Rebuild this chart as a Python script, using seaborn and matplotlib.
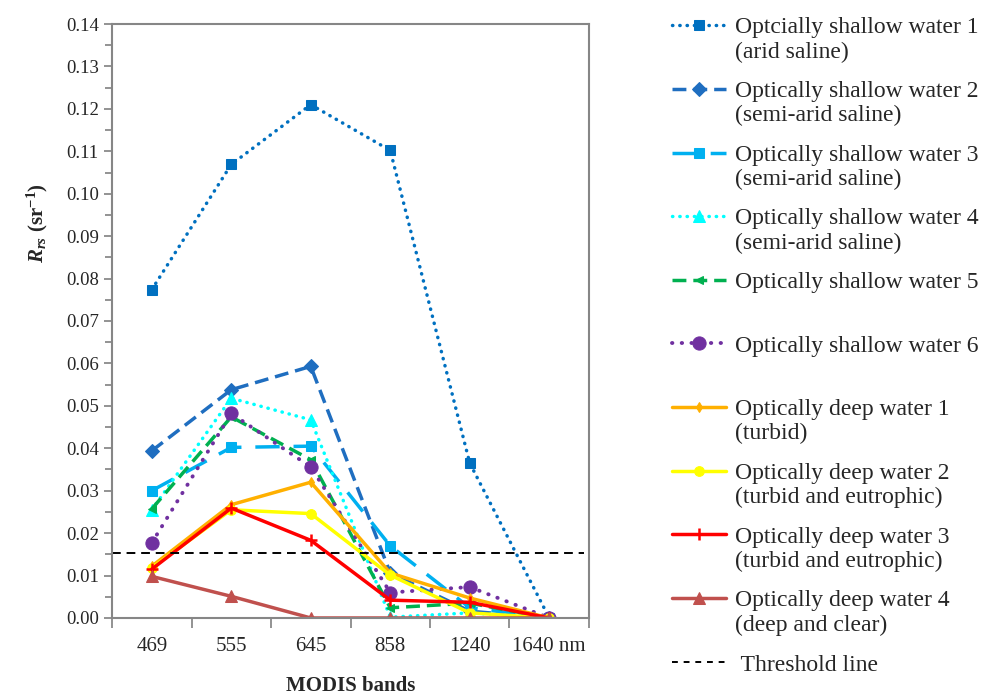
# -*- coding: utf-8 -*-
"""
Rrs spectra of optically shallow / deep waters over the MODIS bands.
"""

import numpy as np
import pandas as pd
import matplotlib
matplotlib.use("Agg")
import matplotlib.pyplot as plt
import seaborn as sns
from matplotlib.legend_handler import HandlerLine2D
from matplotlib.lines import Line2D

# Data
bands = ["469", "555", "645", "858", "1240", "1640 nm"]

shallow_1 = [0.0774, 0.1069, 0.1210, 0.1102, 0.0365, 0.0]
shallow_2 = [0.0394, 0.0538, 0.0593, 0.0106, 0.0016, 0.0]
shallow_3 = [0.0300, 0.0402, 0.0405, 0.0170, 0.0024, 0.0]
shallow_4 = [0.0255, 0.0518, 0.0467, 0.0002, 0.0012, 0.0]
shallow_5 = [0.0257, 0.0474, 0.0373, 0.0024, 0.0035, 0.0]
shallow_6 = [0.0177, 0.0482, 0.0356, 0.0060, 0.0073, 0.0]
deep_1 = [0.0122, 0.0267, 0.0320, 0.0106, 0.0047, 0.0]
deep_2 = [0.0118, 0.0255, 0.0246, 0.0101, 0.0012, 0.0]
deep_3 = [0.0115, 0.0259, 0.0183, 0.0042, 0.0037, 0.0]
deep_4 = [0.0098, 0.0051, 0.0, 0.0, 0.0, 0.0]

threshold = 0.0152

labels = [
    "Optcially shallow water 1\n(arid saline)",
    "Optically shallow water 2\n(semi-arid saline)",
    "Optically shallow water 3\n(semi-arid saline)",
    "Optically shallow water 4\n(semi-arid saline)",
    "Optically shallow water 5\n ",
    "Optically shallow water 6\n ",
    "Optically deep water 1\n(turbid)",
    "Optically deep water 2\n(turbid and eutrophic)",
    "Optically deep water 3\n(turbid and eutrophic)",
    "Optically deep water 4\n(deep and clear)",
]
series = [shallow_1, shallow_2, shallow_3, shallow_4, shallow_5,
          shallow_6, deep_1, deep_2, deep_3, deep_4]

dot = (0, (0.1, 2.0))
styles = [
    dict(color="#0070C0", linestyle=dot, linewidth=2.5, marker="s", markersize=7.5, dash_capstyle="round"),
    dict(color="#1F6EC0", linestyle=(0, (4, 2)), linewidth=2.5, marker="D", markersize=7),
    dict(color="#00B0F0", linestyle=(0, (7, 4)), linewidth=2.5, marker="s", markersize=7.5),
    dict(color="#00FFFF", linestyle=dot, linewidth=2.5, marker="^", markersize=9, dash_capstyle="round"),
    dict(color="#00B050", linestyle=(0, (4, 2)), linewidth=2.5, marker="<", markersize=6),
    dict(color="#7030A0", linestyle=(0, (0.1, 2.4)), linewidth=2.8, marker="o", markersize=9.5, dash_capstyle="round"),
    dict(color="#FFB000", linestyle="-", linewidth=2.5, marker="d", markersize=5),
    dict(color="#FFFF00", linestyle="-", linewidth=2.5, marker="o", markersize=7),
    dict(color="#FF0000", linestyle="-", linewidth=2.5, marker="+", markersize=9, markeredgewidth=1.8),
    dict(color="#C0504D", linestyle="-", linewidth=2.5, marker="^", markersize=9),
]


class FirstLineHandler(HandlerLine2D):
    """Aligne le symbole de légende sur la première ligne du libellé."""

    def create_artists(self, legend, orig_handle, xdescent, ydescent,
                       width, height, fontsize, trans):
        shift = 0.62 * fontsize
        return super().create_artists(legend, orig_handle, xdescent,
                                      ydescent - 2 * shift, width, height,
                                      fontsize, trans)


sns.set_theme(style="white")
plt.rcParams["font.family"] = ["Liberation Serif", "DejaVu Serif"]
plt.rcParams["mathtext.fontset"] = "custom"
plt.rcParams["mathtext.rm"] = "Liberation Serif"
plt.rcParams["mathtext.it"] = "Liberation Serif:italic"
plt.rcParams["mathtext.bf"] = "Liberation Serif:bold"
plt.rcParams["mathtext.bfit"] = "Liberation Serif:italic:bold"

fig = plt.figure(figsize=(9.81, 6.96), dpi=100)
ax = fig.add_axes([0.1142, 0.1121, 0.4862, 0.8534])

x = np.arange(len(bands))
for vals, lab, st in zip(series, labels, styles):
    df = pd.DataFrame({"band": x, "rrs": vals})
    sns.lineplot(data=df, x="band", y="rrs", ax=ax, label=lab,
                 markeredgecolor=st["color"], **st)

ax.axhline(threshold, xmin=0, xmax=0.99, color="black", linewidth=1.4,
           linestyle=(0, (4.5, 3)))

ax.set_xlim(-0.5, len(bands) - 0.5)
ax.set_ylim(0, 0.14)
ax.set_yticks(np.arange(0, 0.1401, 0.01))
ax.set_yticks(np.arange(0.005, 0.14, 0.01), minor=True)
ax.set_yticklabels([f"{v:.2f}" for v in np.arange(0, 0.1401, 0.01)])
ax.set_xticks(x)
ax.set_xticklabels(bands)
ax.set_xticks(np.arange(-0.5, len(bands)), minor=True)

ax.tick_params(axis="y", which="both", direction="out", left=True,
               color="#808080", labelsize=13.5)
ax.tick_params(axis="y", which="major", length=6, width=1.2)
ax.tick_params(axis="y", which="minor", length=5, width=1.2)
ax.tick_params(axis="x", which="major", length=0, labelsize=15, pad=14)
ax.tick_params(axis="x", which="minor", direction="out", bottom=True,
               length=7, width=1.2, color="#808080")

for sp in ax.spines.values():
    sp.set_color("#868686")
    sp.set_linewidth(1.5)

ax.set_xlabel("MODIS bands", fontsize=15, fontweight="bold", labelpad=14)
ax.set_ylabel(r"$\mathbfit{R}_{\mathbfit{rs}}$ (sr$^{\mathbf{-1}}$)",
              fontsize=15, fontweight="bold")
ax.yaxis.set_label_coords(-0.13, 0.665)

# Légende à droite
handles, labs = ax.get_legend_handles_labels()
hmap = {h: FirstLineHandler() for h in handles}
thr = Line2D([], [], color="black", linewidth=1.4, linestyle=(0, (3, 3)))
handles.append(thr)
labs.append(" Threshold line")
leg = fig.legend(handles, labs, handler_map=hmap, loc="upper left",
                 bbox_to_anchor=(0.685, 0.975), frameon=False, fontsize=17,
                 handlelength=2.3, handletextpad=0.38, labelspacing=0.775,
                 borderpad=0, borderaxespad=0)
if ax.get_legend() is not None:
    ax.get_legend().remove()

fig.savefig("out.png", dpi=100)
